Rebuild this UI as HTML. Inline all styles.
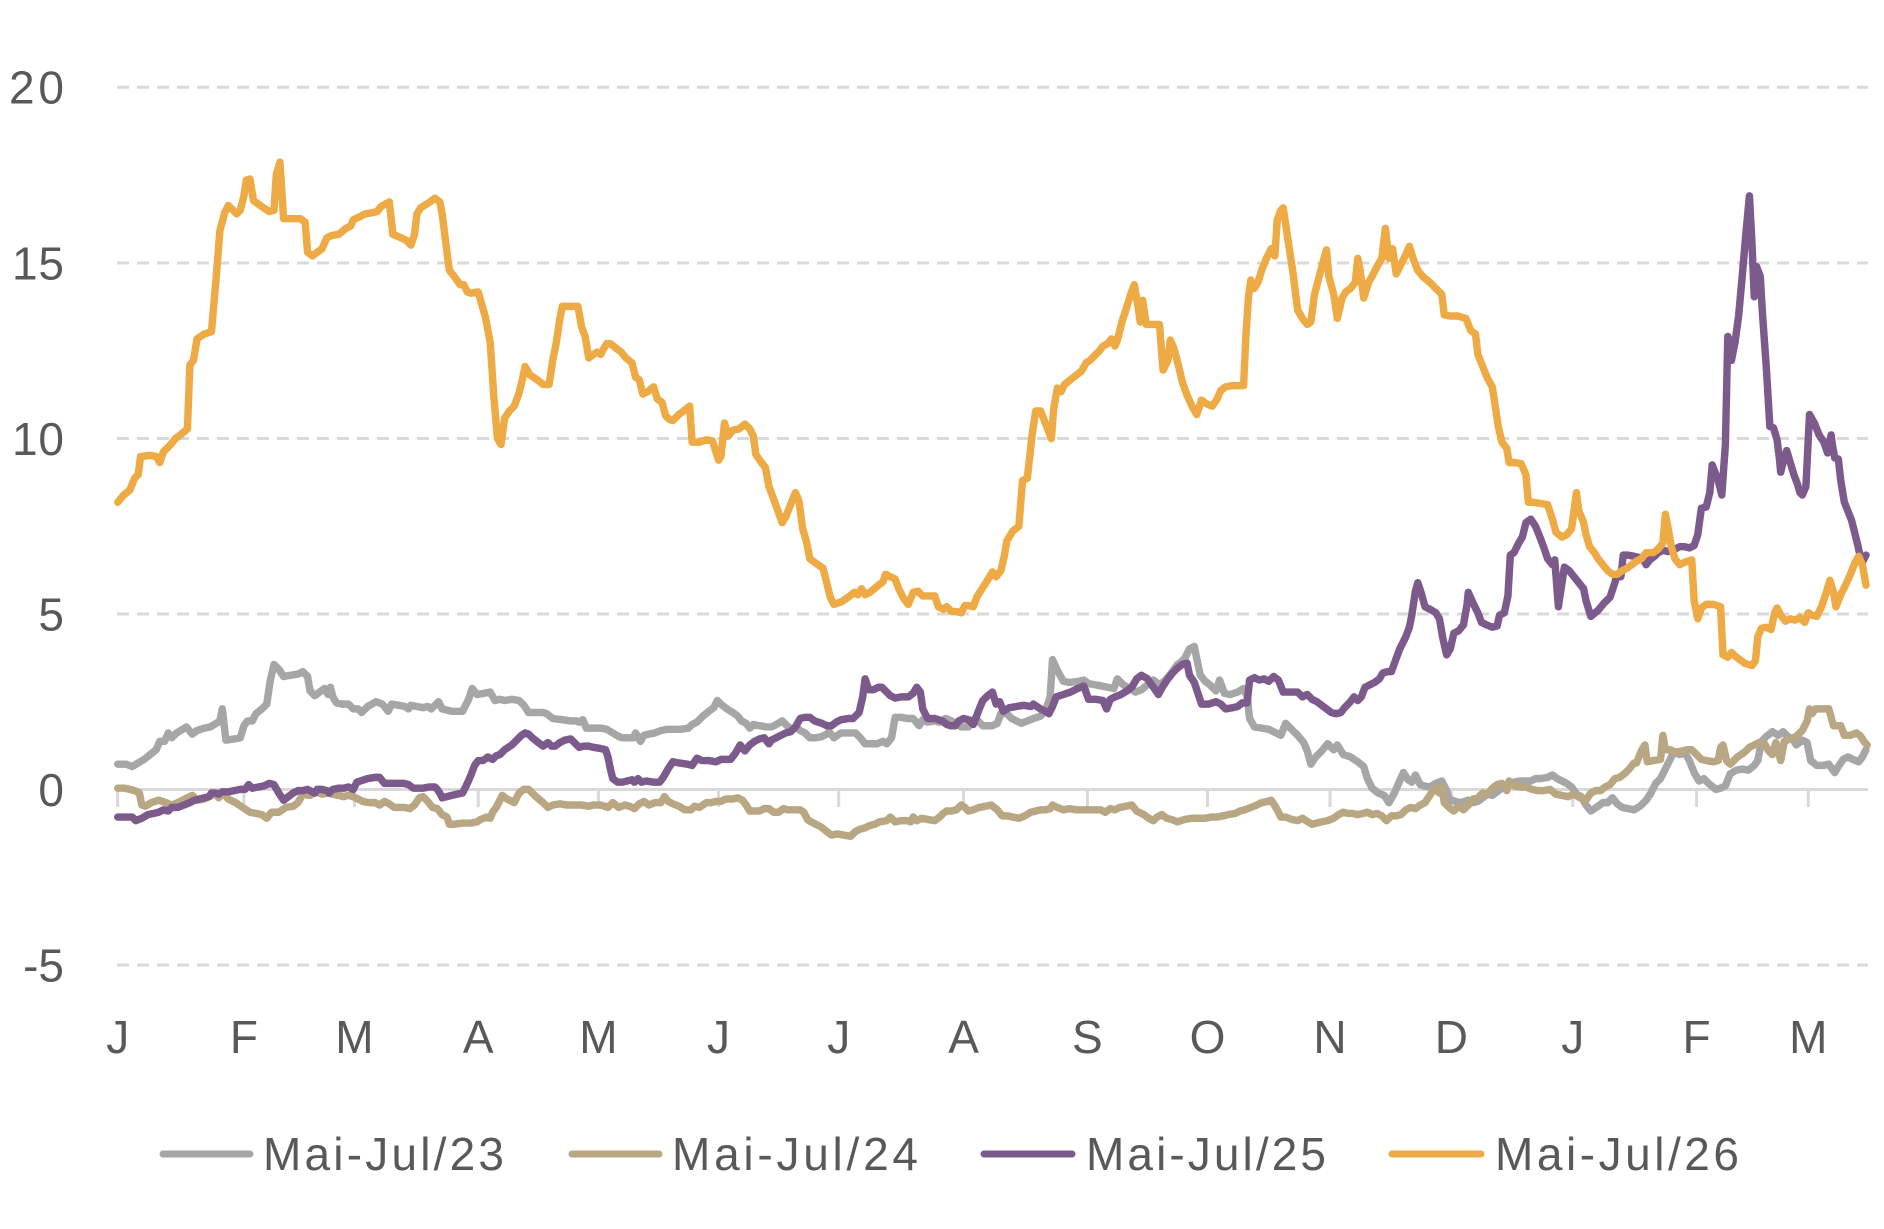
<!DOCTYPE html>
<html>
<head>
<meta charset="utf-8">
<style>
html,body{margin:0;padding:0;background:#fff;}
body{width:1884px;height:1229px;overflow:hidden;}
svg{display:block;}
text{font-family:"Liberation Sans",sans-serif;fill:#595959;}
</style>
</head>
<body>
<svg width="1884" height="1229" viewBox="0 0 1884 1229" xmlns="http://www.w3.org/2000/svg">
<!-- gridlines -->
<g stroke="#d9d9d9" stroke-width="3" stroke-dasharray="12 8" fill="none">
<line x1="117" y1="87.3" x2="1868" y2="87.3"/>
<line x1="117" y1="263" x2="1868" y2="263"/>
<line x1="117" y1="438.5" x2="1868" y2="438.5"/>
<line x1="117" y1="614" x2="1868" y2="614"/>
<line x1="117" y1="965" x2="1868" y2="965"/>
</g>
<g stroke="#d9d9d9" stroke-width="3" fill="none">
<line x1="117" y1="789.5" x2="1868" y2="789.5"/>
<line x1="117.7" y1="789.5" x2="117.7" y2="807"/>
<line x1="243.9" y1="789.5" x2="243.9" y2="807"/>
<line x1="354.4" y1="789.5" x2="354.4" y2="807"/>
<line x1="478.2" y1="789.5" x2="478.2" y2="807"/>
<line x1="598.4" y1="789.5" x2="598.4" y2="807"/>
<line x1="718.5" y1="789.5" x2="718.5" y2="807"/>
<line x1="838.7" y1="789.5" x2="838.7" y2="807"/>
<line x1="963.6" y1="789.5" x2="963.6" y2="807"/>
<line x1="1087.4" y1="789.5" x2="1087.4" y2="807"/>
<line x1="1207.5" y1="789.5" x2="1207.5" y2="807"/>
<line x1="1330" y1="789.5" x2="1330" y2="807"/>
<line x1="1451.4" y1="789.5" x2="1451.4" y2="807"/>
<line x1="1572.8" y1="789.5" x2="1572.8" y2="807"/>
<line x1="1696.6" y1="789.5" x2="1696.6" y2="807"/>
<line x1="1808.3" y1="789.5" x2="1808.3" y2="807"/>
</g>
<!-- y labels -->
<g font-size="46" text-anchor="end">
<text x="64" y="103.5" textLength="55">20</text>
<text x="64" y="279.5" textLength="52">15</text>
<text x="64" y="455" textLength="52">10</text>
<text x="64" y="630.5">5</text>
<text x="64" y="806">0</text>
<text x="64" y="981.5">-5</text>
</g>
<!-- x labels -->
<g font-size="46" text-anchor="middle">
<text x="117.7" y="1053">J</text>
<text x="243.9" y="1053">F</text>
<text x="354.4" y="1053">M</text>
<text x="478.2" y="1053">A</text>
<text x="598.4" y="1053">M</text>
<text x="718.5" y="1053">J</text>
<text x="838.7" y="1053">J</text>
<text x="963.6" y="1053">A</text>
<text x="1087.4" y="1053">S</text>
<text x="1207.5" y="1053">O</text>
<text x="1330" y="1053">N</text>
<text x="1451.4" y="1053">D</text>
<text x="1572.8" y="1053">J</text>
<text x="1696.6" y="1053">F</text>
<text x="1808.3" y="1053">M</text>
</g>
<!-- series -->
<g transform="scale(1.20153)" fill="none" stroke-width="6.2" stroke-linejoin="round" stroke-linecap="round">
<polyline stroke="#a6a6a6" points="98,636 105,636 110,638 115,635 120,632 125,628 130,624 133,617 137,617 140,610 143,614 147,610 152,607 155,605 160,611 164,608 170,606 175,605 180,602 183,600 185,590 188,616 195,615 200,614 203,604 206,600 210,600 213,594 218,590 222,586 225,566 228,553 232,557 236,563 242,562 248,561 252,559 256,563 258,575 262,579 266,576 270,573 273,578 275,572 277,580 280,585 285,586 290,586 294,590 298,590 301,593 306,588 313,584 318,586 320,588 323,592 326,586 332,587 337,588 340,590 342,587 347,588 352,589 356,588 359,590 362,587 365,584 368,590 372,591 376,592 385,592 390,582 393,573 397,578 403,577 408,576 412,583 416,582 420,583 426,582 432,583 436,587 440,593 446,593 452,593 455,594 460,598 468,599 475,600 480,600 482,601 485,599 488,606 494,606 500,606 505,607 510,610 515,613 518,614 522,614 527,614 529,610 533,617 536,612 540,611 545,610 550,608 555,607 560,607 566,607 573,606 576,603 580,601 585,596 590,592 594,589 597,583 600,586 605,590 610,593 614,596 617,600 621,602 624,606 627,603 632,604 638,605 642,605 646,603 651,600 655,604 659,607 662,605 666,608 670,610 674,614 679,614 684,613 688,611 690,609 694,614 700,610 708,610 712,610 716,614 720,619 725,619 730,619 735,617 738,619 742,614 745,597 750,597 755,598 760,598 765,604 768,599 772,601 778,600 782,601 787,598 792,600 795,602 800,605 806,605 808,600 812,598 818,604 826,604 830,602 833,594 838,594 842,598 850,602 855,600 860,598 866,596 870,592 874,580 876,549 880,558 885,567 890,568 898,567 902,566 906,569 912,570 917,571 922,572 927,573 930,565 935,570 940,573 945,576 950,574 955,570 960,566 965,570 970,566 975,560 980,553 983,551 986,548 990,540 994,538 996,548 999,562 1003,567 1007,570 1012,575 1015,566 1019,577 1024,578 1030,576 1035,573 1038,580 1040,598 1044,605 1050,606 1056,607 1062,610 1066,612 1070,602 1075,607 1080,612 1085,618 1088,625 1091,636 1095,630 1100,625 1105,619 1110,624 1113,620 1118,628 1124,630 1130,634 1135,638 1138,648 1142,656 1147,660 1152,662 1156,668 1160,661 1164,652 1168,643 1172,649 1175,651 1178,645 1182,653 1185,654 1190,655 1195,652 1200,650 1204,658 1206,665 1211,667 1216,668 1222,666 1226,668 1230,667 1234,664 1238,661 1242,662 1246,659 1250,656 1255,654 1260,651 1265,650 1270,650 1274,650 1278,648 1282,648 1288,647 1292,645 1296,648 1300,650 1304,652 1308,655 1312,661 1316,663 1320,670 1324,675 1330,671 1334,668 1338,668 1342,664 1346,669 1350,672 1355,673 1360,674 1365,671 1370,666 1374,660 1378,652 1382,648 1386,640 1390,632 1393,626 1398,628 1402,626 1406,633 1410,643 1414,650 1418,648 1422,652 1428,657 1432,656 1436,654 1440,644 1445,641 1450,640 1455,641 1460,637 1463,633 1466,617 1470,613 1475,609 1480,612 1484,609 1488,613 1492,615 1495,620 1500,616 1504,618 1507,633 1512,637 1518,637 1522,636 1527,643 1530,638 1534,632 1538,630 1542,632 1547,634 1550,630 1553,624"/>
<polyline stroke="#b9a683" points="98,656 104,656 108,657 112,658 116,660 118,670 121,671 126,668 132,666 138,668 143,670 148,668 154,665 160,662 164,666 170,665 176,662 180,660 182,664 186,660 190,665 196,668 202,672 208,676 213,677 218,678 222,681 226,676 232,676 238,672 244,671 248,668 252,661 258,662 263,659 268,661 273,660 277,661 282,662 286,663 290,662 294,663 298,665 302,667 307,668 312,668 316,670 320,667 324,669 328,672 333,672 337,672 341,673 345,670 349,664 352,663 356,667 360,672 364,673 368,678 372,680 374,686 378,686 385,685 392,685 397,684 400,682 405,680 408,681 410,676 413,672 418,662 422,665 428,668 432,660 436,657 440,657 446,663 452,668 456,672 460,670 466,669 472,670 478,670 484,670 490,671 494,670 500,670 506,672 510,668 515,672 520,670 524,671 528,673 532,669 536,667 540,670 545,668 550,668 553,663 556,667 560,669 565,671 570,674 575,674 578,671 582,672 588,668 592,668 596,667 600,667 604,665 610,665 614,664 618,666 621,670 624,675 628,675 632,675 636,673 640,673 644,676 648,676 652,673 656,674 661,674 666,674 669,676 672,682 675,684 679,686 683,688 688,692 692,695 697,694 702,695 708,696 712,692 716,690 720,689 724,687 728,686 732,684 738,683 741,680 745,684 750,683 755,683 758,684 760,680 763,683 767,681 772,682 778,683 782,680 785,677 788,675 792,675 796,674 800,670 803,672 806,675 810,674 815,672 820,671 825,670 830,674 834,679 838,679 843,680 848,681 853,679 858,676 862,675 866,674 870,674 874,673 876,670 880,672 885,674 890,673 896,674 902,674 910,674 916,674 920,676 924,673 928,674 932,672 937,671 942,670 946,675 952,678 956,681 960,683 963,680 967,678 971,681 975,682 980,684 986,682 992,681 998,681 1003,681 1008,680 1013,680 1018,679 1022,678 1028,677 1032,675 1036,674 1041,672 1046,670 1050,668 1055,667 1058,666 1060,669 1063,674 1066,680 1070,680 1075,682 1080,683 1084,681 1087,683 1092,686 1096,685 1100,684 1105,683 1110,681 1114,678 1118,676 1122,677 1126,677 1130,678 1134,677 1138,676 1142,678 1146,677 1150,679 1154,683 1158,679 1162,679 1166,678 1170,674 1174,672 1178,673 1182,670 1186,668 1190,662 1194,656 1198,660 1200,655 1202,668 1206,672 1210,675 1214,671 1218,674 1222,670 1226,665 1230,664 1234,660 1238,661 1242,656 1246,653 1250,652 1254,658 1256,650 1260,654 1265,655 1270,655 1275,657 1280,658 1285,658 1290,657 1295,661 1300,662 1305,663 1310,661 1315,664 1320,666 1324,660 1328,658 1332,658 1336,655 1340,653 1344,648 1348,647 1352,644 1356,640 1360,635 1362,635 1366,625 1369,620 1371,634 1376,633 1382,632 1384,612 1386,624 1390,624 1395,626 1400,625 1404,624 1408,624 1412,628 1416,632 1420,633 1426,634 1430,633 1432,622 1434,620 1437,633 1440,636 1446,630 1452,626 1456,622 1460,620 1464,618 1468,618 1472,625 1475,628 1478,618 1482,633 1485,617 1490,615 1495,613 1500,608 1504,600 1506,590 1508,594 1511,590 1516,590 1522,590 1526,604 1532,604 1535,612 1540,612 1545,610 1548,612 1552,618 1554,620"/>
<polyline stroke="#7d5a8c" points="98,680 106,680 110,680 113,683 118,681 123,678 128,677 132,676 136,674 140,675 143,672 148,672 153,670 158,668 162,666 166,665 170,664 174,663 176,660 179,660 182,661 185,659 190,659 195,658 200,657 204,657 207,653 210,656 215,655 220,654 224,652 228,653 232,660 236,666 240,663 244,660 248,658 252,658 256,657 260,659 262,660 264,657 268,657 272,658 274,660 277,657 282,656 286,656 290,655 294,657 297,651 300,650 306,648 312,647 316,647 320,652 324,652 330,652 336,652 340,653 344,656 348,656 352,656 357,655 362,655 364,657 366,660 368,664 372,663 376,662 380,661 385,660 388,654 392,645 395,637 398,633 402,633 406,630 410,632 413,629 416,628 420,624 426,620 431,615 434,612 437,610 440,611 443,614 448,618 452,621 456,618 459,621 462,621 466,618 470,616 475,615 478,618 482,622 486,621 490,621 494,622 500,623 504,624 506,630 508,640 510,648 514,651 518,651 522,650 526,649 528,651 531,648 534,651 538,650 544,651 549,651 552,647 556,640 560,634 565,635 572,636 576,637 580,631 584,633 590,633 596,634 600,632 604,632 608,632 612,627 616,620 620,625 624,620 628,617 632,615 636,614 640,619 642,616 646,614 650,612 654,610 658,609 662,605 666,598 670,597 674,597 678,600 684,602 688,604 692,604 696,601 700,599 706,598 710,598 715,593 718,580 720,565 723,574 727,574 731,572 734,572 737,575 741,579 745,581 750,580 756,580 760,577 763,572 766,576 768,590 772,598 778,598 784,600 788,603 791,604 795,604 798,600 802,598 806,599 810,603 812,598 815,590 818,583 822,579 826,576 829,586 832,584 835,592 840,589 846,588 852,587 858,588 860,586 866,590 870,592 873,594 876,588 879,580 885,578 891,576 897,573 902,571 906,582 912,582 918,583 921,590 924,582 928,580 933,578 938,575 942,572 946,565 950,562 955,565 960,572 964,578 968,571 972,565 976,560 980,556 984,553 988,552 990,562 994,568 997,577 1000,586 1006,586 1012,584 1016,586 1020,590 1026,589 1030,588 1034,585 1038,585 1040,566 1044,564 1048,566 1052,565 1056,567 1060,563 1064,566 1068,576 1074,576 1080,576 1084,580 1088,578 1092,582 1096,584 1100,587 1104,590 1108,593 1112,594 1116,593 1119,589 1123,585 1127,580 1130,583 1133,580 1136,572 1140,570 1144,568 1148,565 1151,560 1155,559 1158,559 1162,548 1165,540 1170,530 1173,522 1175,512 1178,492 1180,485 1183,494 1186,505 1190,507 1195,510 1198,515 1201,532 1204,545 1207,540 1210,527 1214,525 1218,520 1221,503 1222,493 1226,502 1230,510 1233,518 1237,520 1242,522 1246,521 1248,512 1252,510 1255,496 1257,462 1260,460 1264,452 1267,447 1270,435 1274,432 1278,438 1282,448 1285,456 1288,465 1292,470 1294,466 1297,505 1300,485 1302,472 1306,475 1310,480 1314,485 1318,490 1320,500 1324,513 1330,508 1335,502 1340,497 1344,485 1346,478 1349,480 1351,462 1355,462 1360,463 1364,464 1368,466 1370,470 1373,466 1377,463 1380,460 1384,458 1388,459 1392,458 1398,455 1402,455 1406,456 1410,454 1413,445 1416,423 1420,422 1423,410 1425,387 1430,400 1433,412 1436,370 1438,280 1440,285 1441,300 1444,285 1447,263 1450,230 1453,195 1456,163 1458,200 1460,247 1462,222 1465,230 1467,263 1470,305 1473,355 1476,356 1479,366 1481,382 1482,393 1484,385 1487,375 1490,385 1493,395 1496,403 1498,410 1500,412 1503,405 1506,345 1510,352 1514,362 1518,368 1521,377 1524,362 1525,370 1527,381 1530,382 1532,400 1535,418 1541,433 1546,453 1548,462 1550,468 1553,462"/>
<polyline stroke="#eeab45" points="98,418 103,412 108,408 112,398 115,395 117,380 125,379 130,380 133,385 136,376 142,370 146,365 150,362 156,357 158,304 161,300 164,282 170,278 176,276 180,230 183,192 187,177 190,171 197,178 200,175 203,163 205,150 208,149 211,167 218,172 224,176 228,175 230,145 233,135 236,182 244,182 250,182 254,185 256,210 260,213 264,210 268,207 272,198 276,196 282,195 288,190 292,188 294,183 300,180 304,178 310,177 314,176 317,172 324,168 327,195 334,198 338,200 342,204 345,195 347,178 350,173 358,168 362,165 366,168 368,178 372,210 374,225 378,230 383,237 386,237 389,243 392,244 398,243 404,264 408,285 411,330 414,365 417,370 420,348 424,342 428,338 432,327 435,315 437,305 441,312 447,316 452,320 457,320 460,300 463,285 466,265 468,255 474,255 481,255 484,272 487,280 490,298 494,295 497,293 500,295 502,291 505,286 508,286 513,290 517,293 521,298 526,302 529,314 532,316 535,328 539,326 544,322 547,332 551,335 554,346 557,349 560,350 565,345 569,342 574,338 576,368 582,368 588,366 593,367 598,383 600,380 603,352 606,363 610,358 615,357 620,353 624,357 627,363 629,378 633,384 637,389 640,405 643,413 647,424 651,435 654,430 658,420 662,410 665,417 668,440 671,450 674,465 678,468 685,473 688,485 691,497 694,503 700,501 706,497 711,493 714,495 717,490 720,495 724,493 730,488 735,484 737,478 741,480 745,482 748,490 752,498 756,503 760,493 764,492 768,496 772,496 778,496 781,505 785,507 788,505 792,509 796,509 800,510 803,504 806,504 810,505 813,497 816,492 820,486 826,476 829,480 833,475 836,462 838,450 843,442 848,438 851,400 855,398 857,380 859,362 862,342 866,342 870,352 875,365 877,340 880,323 883,326 886,320 891,316 896,312 900,309 904,302 907,300 911,296 915,292 918,288 922,286 925,282 928,288 930,283 934,267 937,258 941,245 944,237 947,254 949,268 951,250 954,270 960,270 965,270 968,308 972,300 974,283 977,290 981,305 984,318 988,329 992,338 996,345 1000,333 1004,336 1009,338 1013,332 1016,325 1020,322 1025,321 1030,321 1035,321 1037,278 1039,248 1041,233 1044,240 1047,235 1050,225 1054,215 1058,207 1061,213 1063,183 1066,175 1068,173 1072,200 1076,226 1080,258 1084,265 1088,270 1091,268 1094,245 1098,230 1102,215 1104,208 1106,230 1110,245 1113,265 1117,248 1120,243 1124,240 1128,235 1130,215 1132,225 1135,248 1139,235 1142,230 1146,222 1150,215 1153,190 1156,215 1159,207 1162,228 1166,220 1170,212 1173,205 1176,215 1180,225 1184,230 1190,235 1195,240 1200,245 1202,262 1207,263 1213,263 1220,265 1224,275 1228,278 1230,295 1234,305 1238,315 1242,322 1244,335 1247,355 1250,368 1254,373 1256,385 1261,385 1266,386 1270,395 1272,418 1276,418 1282,419 1288,420 1292,432 1295,443 1300,447 1304,445 1308,440 1310,425 1312,410 1314,425 1318,435 1320,445 1323,455 1327,460 1330,465 1334,470 1338,475 1342,478 1346,478 1350,475 1354,473 1358,470 1362,467 1366,465 1370,460 1376,460 1380,457 1384,452 1386,428 1388,438 1391,455 1394,465 1398,470 1402,468 1405,467 1408,466 1410,500 1413,515 1416,506 1420,503 1426,503 1432,505 1434,545 1438,547 1441,543 1444,546 1448,549 1452,552 1458,554 1461,550 1463,530 1466,523 1470,522 1474,524 1477,510 1479,506 1482,512 1486,517 1490,515 1494,516 1498,514 1502,518 1505,510 1508,512 1512,513 1516,505 1520,493 1523,483 1526,493 1528,505 1532,495 1536,487 1540,478 1544,468 1547,463 1550,470 1553,487"/>
</g>
<!-- legend -->
<g stroke-width="7" stroke-linecap="round">
<line x1="163" y1="1154" x2="250" y2="1154" stroke="#a6a6a6"/>
<line x1="572" y1="1154" x2="659" y2="1154" stroke="#b9a683"/>
<line x1="984" y1="1154" x2="1072" y2="1154" stroke="#7d5a8c"/>
<line x1="1392" y1="1154" x2="1481" y2="1154" stroke="#eeab45"/>
</g>
<g font-size="46">
<text x="263" y="1170" textLength="241">Mai-Jul/23</text>
<text x="672" y="1170" textLength="246">Mai-Jul/24</text>
<text x="1086" y="1170" textLength="240">Mai-Jul/25</text>
<text x="1495" y="1170" textLength="244">Mai-Jul/26</text>
</g>
</svg>
</body>
</html>
